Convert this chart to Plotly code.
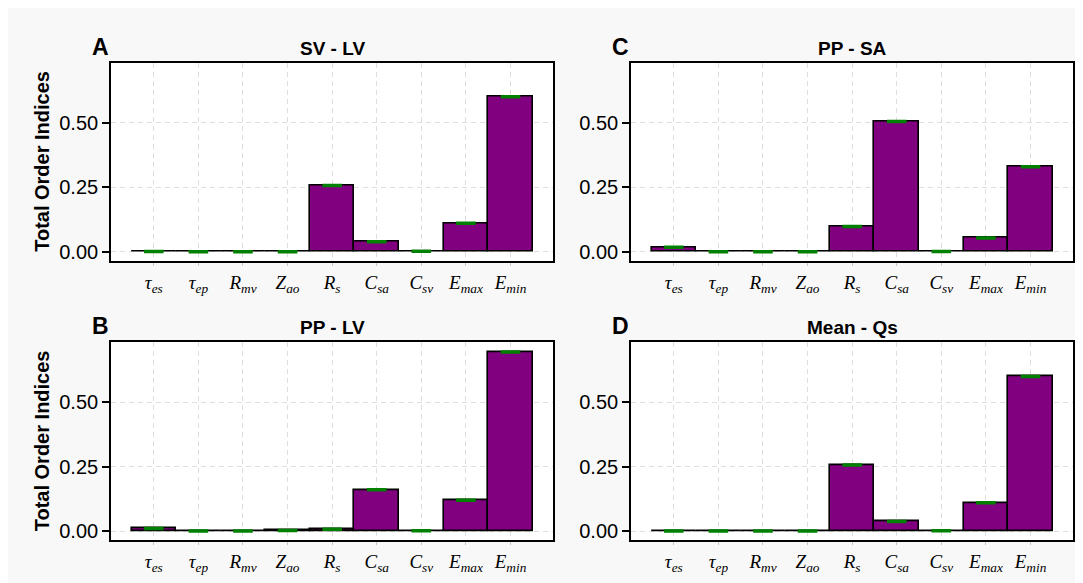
import plotly.graph_objects as go

categories = ["<i>τ</i><sub><i>es</i></sub>", "<i>τ</i><sub><i>ep</i></sub>",
              "<i>R</i><sub><i>mv</i></sub>", "<i>Z</i><sub><i>ao</i></sub>",
              "<i>R</i><sub><i>s</i></sub>", "<i>C</i><sub><i>sa</i></sub>",
              "<i>C</i><sub><i>sv</i></sub>", "<i>E</i><sub><i>max</i></sub>",
              "<i>E</i><sub><i>min</i></sub>"]

sv_lv = [0.001, 0.0005, 0.0005, 0.0005, 0.257, 0.039, 0.002, 0.111, 0.600]
pp_lv = [0.010, 0.001, 0.001, 0.003, 0.008, 0.160, 0.002, 0.120, 0.694]
pp_sa = [0.018, 0.0005, 0.0005, 0.0005, 0.098, 0.504, 0.001, 0.054, 0.329]
mean_qs = [0.0005, 0.0005, 0.001, 0.001, 0.256, 0.038, 0.002, 0.110, 0.599]

panel_titles = ["SV - LV", "PP - SA", "PP - LV", "Mean - Qs"]
panel_letters = ["A", "C", "B", "D"]
panel_values = [sv_lv, pp_sa, pp_lv, mean_qs]

ytick_vals = [0.0, 0.25, 0.5]
ytick_text = ["0.00", "0.25", "0.50"]

W, H = 1075, 575
OX, OY = 8, 8

def fx(px):
    return (px - OX) / W

def fy(py):
    return 1 - (py - OY) / H

xdoms = [(fx(111), fx(553.3)), (fx(631), fx(1073.3))]
ydoms = [(fy(262), fy(62.7)), (fy(542.3), fy(343.3))]

# order: A (top-left), C (top-right), B (bottom-left), D (bottom-right)
positions = [(0, 0), (1, 0), (0, 1), (1, 1)]

fig = go.Figure()
annotations = []
SANS = "Liberation Sans, Arial, sans-serif"

for i, (vals, title, letter, (cx, ry)) in enumerate(zip(panel_values, panel_titles, panel_letters, positions)):
    n = i + 1
    xa = "x" if n == 1 else f"x{n}"
    ya = "y" if n == 1 else f"y{n}"
    fig.add_trace(go.Bar(
        x=categories, y=vals, xaxis=xa, yaxis=ya,
        marker=dict(color="#800080", line=dict(color="black", width=1.6)),
        width=1.0, showlegend=False, hoverinfo="skip",
    ))
    fig.add_trace(go.Scatter(
        x=categories, y=vals, xaxis=xa, yaxis=ya, mode="markers",
        marker=dict(symbol="line-ew", size=14, color="#008000",
                    line=dict(color="#008000", width=3.5)),
        showlegend=False, hoverinfo="skip",
    ))
    xd = xdoms[cx]
    yd = ydoms[ry]
    xkey = "xaxis" if n == 1 else f"xaxis{n}"
    ykey = "yaxis" if n == 1 else f"yaxis{n}"
    fig.update_layout(**{
        xkey: dict(
            domain=list(xd), anchor=ya, type="category",
            range=[-0.96, 8.96],
            showline=True, linecolor="black", linewidth=1.6, mirror=True,
            showgrid=True, gridcolor="#dedede", gridwidth=1.2, griddash="5px,4px",
            ticks="outside", ticklen=3, tickcolor="#c8c8c8", tickwidth=1.2,
            tickfont=dict(family="Liberation Serif, Times New Roman, serif", size=19, color="black"),
            zeroline=False, fixedrange=True,
        ),
        ykey: dict(
            domain=list(yd), anchor=xa,
            range=[-0.0358, 0.732],
            tickvals=ytick_vals, ticktext=ytick_text,
            showline=True, linecolor="black", linewidth=1.6, mirror=True,
            showgrid=True, gridcolor="#dedede", gridwidth=1.2, griddash="5px,4px",
            ticks="outside", ticklen=7, tickcolor="black", tickwidth=1.6,
            tickfont=dict(family=SANS, size=20, color="black"),
            zeroline=False, fixedrange=True,
        ),
    })
    # panel title
    annotations.append(dict(
        text=f"<b>{title}</b>", xref="paper", yref="paper",
        x=(xd[0] + xd[1]) / 2, y=yd[1], xanchor="center", yanchor="bottom",
        yshift=2, showarrow=False, font=dict(family=SANS, size=19, color="black"),
    ))
    # panel letter
    annotations.append(dict(
        text=f"<b>{letter}</b>", xref="paper", yref="paper",
        x=xd[0], y=yd[1], xanchor="right", yanchor="bottom",
        yshift=1, showarrow=False, font=dict(family=SANS, size=23, color="black"),
    ))
    if cx == 0:
        annotations.append(dict(
            text="<b>Total Order Indices</b>", xref="paper", yref="paper",
            x=fx(42), y=(yd[0] + yd[1]) / 2, xanchor="center", yanchor="middle",
            textangle=-90, showarrow=False,
            font=dict(family=SANS, size=20, color="black"),
        ))

fig.update_layout(
    width=W, height=H, autosize=False,
    margin=dict(l=0, r=0, t=0, b=0, pad=0),
    paper_bgcolor="#f8f8f8", plot_bgcolor="white",
    annotations=annotations, bargap=0,
)

fig.write_html("out.html")
